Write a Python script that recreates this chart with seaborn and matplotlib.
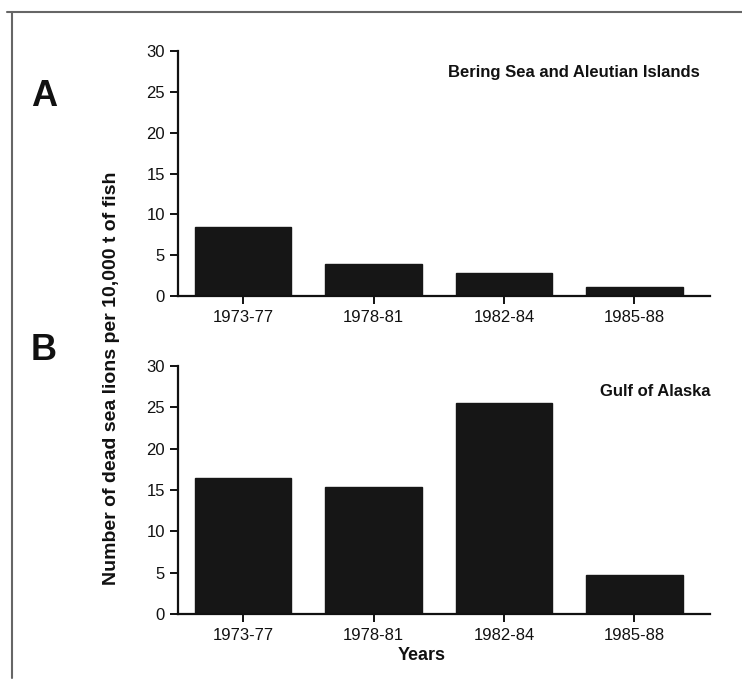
import pandas as pd
import seaborn as sns
import matplotlib.pyplot as plt
from matplotlib.lines import Line2D

periods = ["1973-77", "1978-81", "1982-84", "1985-88"]
bering_values = [8.4, 3.9, 2.8, 1.1]
gulf_values = [16.5, 15.4, 25.5, 4.7]
y_ticks = [0, 5, 10, 15, 20, 25, 30]

sns.set_style("ticks")
plt.rcParams["font.family"] = ["Liberation Sans", "DejaVu Sans"]
plt.rcParams["text.color"] = "#111111"
plt.rcParams["xtick.color"] = "#111111"
plt.rcParams["ytick.color"] = "#111111"
plt.rcParams["axes.labelcolor"] = "#111111"

W, H = 742, 690
fig = plt.figure(figsize=(W / 100, H / 100), dpi=100)


def fx(px):
    return px / W


def fy(py):
    return 1 - py / H


def panel(top, bottom, values, title, title_x, title_y):
    ax = fig.add_axes([fx(178), fy(bottom), fx(710) - fx(178), fy(top) - fy(bottom)])
    df = pd.DataFrame({"period": periods, "value": values})
    sns.barplot(data=df, x="period", y="value", color="#161616", width=0.74,
                saturation=1, edgecolor="#161616", ax=ax)
    ax.set_xlim(-0.5, 3.58)
    ax.set_ylim(0, 30)
    ax.set_yticks(y_ticks)
    ax.set_xlabel("")
    ax.set_ylabel("")
    sns.despine(ax=ax)
    for s in ["left", "bottom"]:
        ax.spines[s].set_linewidth(1.6)
        ax.spines[s].set_color("#111111")
    ax.tick_params(axis="both", labelsize=12, width=1.4, length=6)
    ax.tick_params(axis="x", pad=4)
    ax.text(title_x, title_y, title, transform=fig.transFigure, ha="right", va="center",
            fontsize=12, fontweight="bold")
    return ax


ax_a = panel(51, 296, bering_values, "Bering Sea and Aleutian Islands", fx(700), fy(73))
ax_b = panel(366, 614, gulf_values, "Gulf of Alaska", fx(710), fy(391))

fig.text(fx(422), fy(656), "Years", fontsize=13, fontweight="bold", ha="center", va="center")
fig.text(fx(44), fy(97), "A", fontsize=26, fontweight="bold", ha="center", va="center")
fig.text(fx(44), fy(351), "B", fontsize=26, fontweight="bold", ha="center", va="center")
fig.text(fx(112), fy(378), "Number of dead sea lions per 10,000 t of fish", rotation=90,
         fontsize=14, fontweight="bold", ha="center", va="center")

# frame around the figure
fig.add_artist(Line2D([fx(7), 1], [fy(12), fy(12)], color="#666666", lw=1.5))
fig.add_artist(Line2D([fx(12), fx(12)], [fy(12), fy(678)], color="#666666", lw=1.5))

fig.savefig("out.png", dpi=100, facecolor="white")
